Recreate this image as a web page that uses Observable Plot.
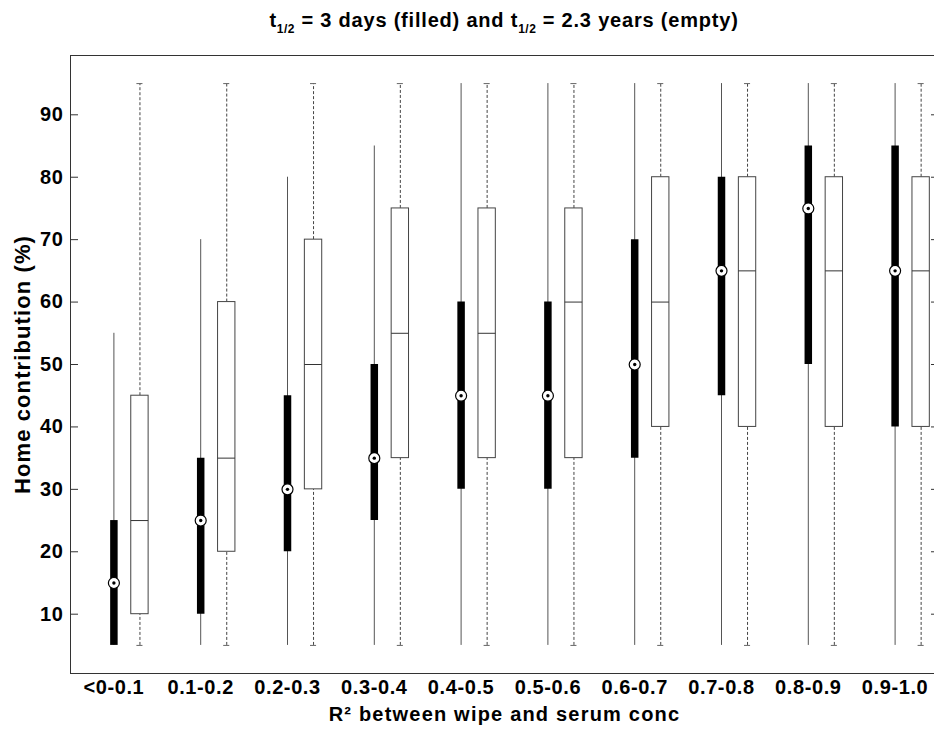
<!DOCTYPE html>
<html>
<head>
<meta charset="utf-8">
<script src="https://cdn.jsdelivr.net/npm/d3@7"></script>
<script src="https://cdn.jsdelivr.net/npm/@observablehq/plot@0.6"></script>
<style>
  body { margin: 0; background: #fff; }
  #title {
    width: 934px; height: 48px; box-sizing: border-box;
    padding-left: 74px; padding-top: 9px; text-align: center;
    font: bold 20px "Liberation Sans", Arial, sans-serif; color: #000;
    letter-spacing: 0.8px; white-space: nowrap;
  }
  #title sub { font-size: 12px; vertical-align: -6px; line-height: 0; letter-spacing: 0.5px; }
  #chart svg text { letter-spacing: 0.6px; }
  #chart svg text.xlab { letter-spacing: 1.2px; }
  #chart svg text.ylab { letter-spacing: 1.1px; }
</style>
</head>
<body>
<div id="title">t<sub>1/2</sub> = 3 days (filled) and t<sub>1/2</sub> = 2.3 years (empty)</div>
<div id="chart"></div>
<script>
// Categories (R² bins)
const categories = ["<0-0.1", "0.1-0.2", "0.2-0.3", "0.3-0.4", "0.4-0.5", "0.5-0.6", "0.6-0.7", "0.7-0.8", "0.8-0.9", "0.9-1.0"];
const yTicks = [10, 20, 30, 40, 50, 60, 70, 80, 90];

// t1/2 = 3 days (filled)
const filledLow    = [5, 5, 5, 5, 5, 5, 5, 5, 5, 5];
const filledQ1     = [5, 10, 20, 25, 30, 30, 35, 45, 50, 40];
const filledMedian = [15, 25, 30, 35, 45, 45, 50, 65, 75, 65];
const filledQ3     = [25, 35, 45, 50, 60, 60, 70, 80, 85, 85];
const filledHigh   = [55, 70, 80, 85, 95, 95, 95, 95, 95, 95];

// t1/2 = 2.3 years (empty)
const emptyLow    = [5, 5, 5, 5, 5, 5, 5, 5, 5, 5];
const emptyQ1     = [10, 20, 30, 35, 35, 35, 40, 40, 40, 40];
const emptyMedian = [25, 35, 50, 55, 55, 60, 60, 65, 65, 65];
const emptyQ3     = [45, 60, 70, 75, 75, 75, 80, 80, 80, 80];
const emptyHigh   = [95, 95, 95, 95, 95, 95, 95, 95, 95, 95];

const xLabel = "R² between wipe and serum conc";
const yLabel = "Home contribution (%)";

const positions = categories.map((c, i) => i + 1);
const emptyOffset = 0.3;
const boxHalf = 0.1;
const capHalf = 0.035;

const filled = categories.map((c, i) => ({
  x: i + 1, lo: filledLow[i], q1: filledQ1[i], med: filledMedian[i], q3: filledQ3[i], hi: filledHigh[i]
}));
const empty = categories.map((c, i) => ({
  x: i + 1 + emptyOffset, lo: emptyLow[i], q1: emptyQ1[i], med: emptyMedian[i], q3: emptyQ3[i], hi: emptyHigh[i]
}));

const font = '"Liberation Sans", Arial, sans-serif';

const chart = Plot.plot({
  width: 934,
  height: 682,
  marginLeft: 70,
  marginRight: -4,
  marginTop: 7,
  marginBottom: 57,
  style: { fontFamily: font, background: "white", color: "black" },
  x: { domain: [0.5, 10.5] },
  y: { domain: [0.5, 99.5] },
  marks: [
    // filled (3 days)
    Plot.ruleX(filled, { x: "x", y1: "lo", y2: "hi", stroke: "#555", strokeWidth: 1 }),
    Plot.ruleX(filled, { x: "x", y1: "q1", y2: "q3", stroke: "black", strokeWidth: 7.5 }),
    Plot.dot(filled, { x: "x", y: "med", r: 5.5, fill: "white", stroke: "black", strokeWidth: 1.2 }),
    Plot.dot(filled, { x: "x", y: "med", r: 1.7, fill: "black", stroke: "none" }),
    // empty (2.3 years)
    Plot.ruleX(empty, { x: "x", y1: "q3", y2: "hi", stroke: "#444", strokeDasharray: "3,2" }),
    Plot.ruleX(empty, { x: "x", y1: "lo", y2: "q1", stroke: "#444", strokeDasharray: "3,2" }),
    Plot.ruleY(empty, { y: "hi", x1: d => d.x - capHalf, x2: d => d.x + capHalf, stroke: "#666" }),
    Plot.ruleY(empty, { y: "lo", x1: d => d.x - capHalf, x2: d => d.x + capHalf, stroke: "#666" }),
    Plot.rect(empty, { x1: d => d.x - boxHalf, x2: d => d.x + boxHalf, y1: "q1", y2: "q3", fill: "white", stroke: "#444" }),
    Plot.ruleY(empty, { y: "med", x1: d => d.x - boxHalf, x2: d => d.x + boxHalf, stroke: "#333" }),
    // frame and axes
    Plot.frame({ stroke: "#333" }),
    Plot.axisY({ ticks: yTicks, tickSize: 0, tickPadding: 7, fontSize: 20, fontWeight: "bold", label: null }),
    Plot.axisY({ ticks: yTicks, tickSize: 8, dx: 8, fill: "none", stroke: "#333", label: null }),
    Plot.axisY({ anchor: "right", ticks: yTicks, tickSize: 8, dx: -8, fill: "none", stroke: "#333", label: null }),
    Plot.axisX({ ticks: positions, tickFormat: d => categories[d - 1], tickSize: 0, tickPadding: 6, fontSize: 20, fontWeight: "bold", label: null }),
    Plot.text([xLabel], { text: d => d, frameAnchor: "bottom", textAnchor: "middle", dy: 41, lineAnchor: "middle", fontSize: 20, fontWeight: "bold" }),
    Plot.text([yLabel], { text: d => d, frameAnchor: "left", textAnchor: "middle", rotate: -90, dx: -48, fontSize: 22, fontWeight: "bold" })
  ]
});
d3.select(chart).selectAll("text").filter(function () { return this.textContent === xLabel; }).classed("xlab", true);
d3.select(chart).selectAll("text").filter(function () { return this.textContent === yLabel; }).classed("ylab", true);
document.getElementById("chart").appendChild(chart);
</script>
</body>
</html>
